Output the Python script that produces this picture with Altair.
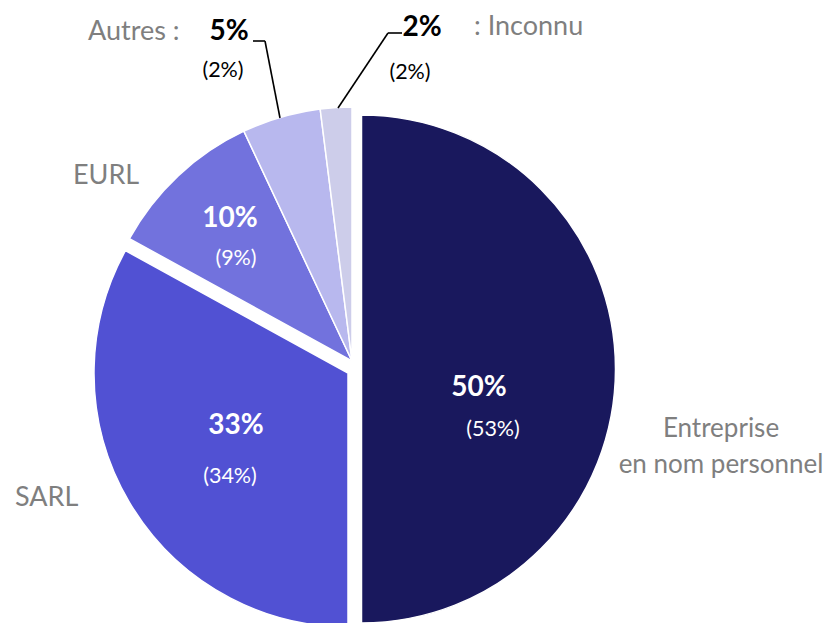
import altair as alt
import pandas as pd

categories = ["Entreprise en nom personnel", "SARL", "EURL", "Autres", "Inconnu"]
display_names = ["Entreprise\nen nom personnel", "SARL", "EURL", "Autres :", ": Inconnu"]
shares = [50, 33, 10, 5, 2]
previous = [53, 34, 9, 2, 2]
colors = ["#19185d", "#5151d3", "#7272dd", "#b8b8ee", "#cdcdea"]

df = pd.DataFrame({
    "cat": categories,
    "name": display_names,
    "share": shares,
    "prev": previous,
    "order": list(range(len(categories))),
})
df["pct"] = df["share"].astype(str) + "%"
df["prevtxt"] = "(" + df["prev"].astype(str) + "%)"

FONT = "Lato"
R = 254

base = (
    alt.Chart(df)
    .transform_joinaggregate(total="sum(share)")
    .transform_window(cum="sum(share)", sort=[alt.SortField("order")], frame=[None, 0])
    .transform_calculate(
        t0="2*PI*(datum.cum-datum.share)/datum.total",
        t1="2*PI*datum.cum/datum.total",
    )
)
color_scale = alt.Scale(domain=categories, range=colors)


def slices(names, cx, cy):
    return (
        base.transform_filter(alt.FieldOneOfPredicate(field="cat", oneOf=names))
        .mark_arc(radius=R, stroke="white", strokeWidth=1.5)
        .encode(
            theta=alt.Theta("t0:Q", scale=None),
            theta2="t1:Q",
            color=alt.Color("cat:N", scale=color_scale, legend=None),
            x=alt.value(cx),
            y=alt.value(cy),
        )
    )


def label(cat, field, x, y, size, weight="normal", color="white", align="center"):
    return (
        alt.Chart(df)
        .transform_filter(alt.datum.cat == cat)
        .mark_text(font=FONT, fontSize=size, fontWeight=weight, color=color,
                   align=align, baseline="alphabetic", lineBreak="\n", lineHeight=36)
        .encode(text=alt.Text(field + ":N"), x=alt.value(x), y=alt.value(y))
    )


def leader(x1, y1, x2, y2):
    return alt.Chart(df).transform_filter(alt.datum.order == 0).mark_rule(
        color="black", strokeWidth=1.6
    ).encode(x=alt.value(x1), y=alt.value(y1), x2=alt.value(x2), y2=alt.value(y2))


GRAY = "#7f7f7f"
BIG = 28
SMALL = 21.5
NAME = 27
layers = [
    slices(["Entreprise en nom personnel"], 353.5, 361),
    slices(["SARL"], 340, 365),
    slices(["EURL", "Autres", "Inconnu"], 344, 353),
    leader(245, 33, 257, 33),
    leader(257, 33, 272, 110),
    leader(394, 25, 380, 25),
    leader(380, 25, 330, 100),
    # percentages
    label(categories[0], "pct", 471, 388, BIG, "bold"),
    label(categories[1], "pct", 228, 426, BIG, "bold"),
    label(categories[2], "pct", 222, 219, BIG, "bold"),
    label(categories[3], "pct", 221, 32, BIG, "bold", "black"),
    label(categories[4], "pct", 414, 28, BIG, "bold", "black"),
    # previous values
    label(categories[0], "prevtxt", 485, 428, SMALL),
    label(categories[1], "prevtxt", 222, 475, SMALL),
    label(categories[2], "prevtxt", 228, 257, SMALL),
    label(categories[3], "prevtxt", 215, 69, SMALL, color="black"),
    label(categories[4], "prevtxt", 402, 71, SMALL, color="black"),
    # names
    label(categories[0], "name", 713, 429, 26, color=GRAY),
    label(categories[1], "name", 7, 498, NAME, color=GRAY, align="left"),
    label(categories[2], "name", 65, 176, NAME, color=GRAY, align="left"),
    label(categories[3], "name", 80, 32, NAME, color=GRAY, align="left"),
    label(categories[4], "name", 466, 27, NAME, color=GRAY, align="left"),
]

chart = (
    alt.layer(*layers)
    .properties(width=820, height=615, autosize="none", padding=0)
    .configure_view(stroke=None)
)

chart.save("out.html", embed_options={"renderer": "svg", "actions": False})
